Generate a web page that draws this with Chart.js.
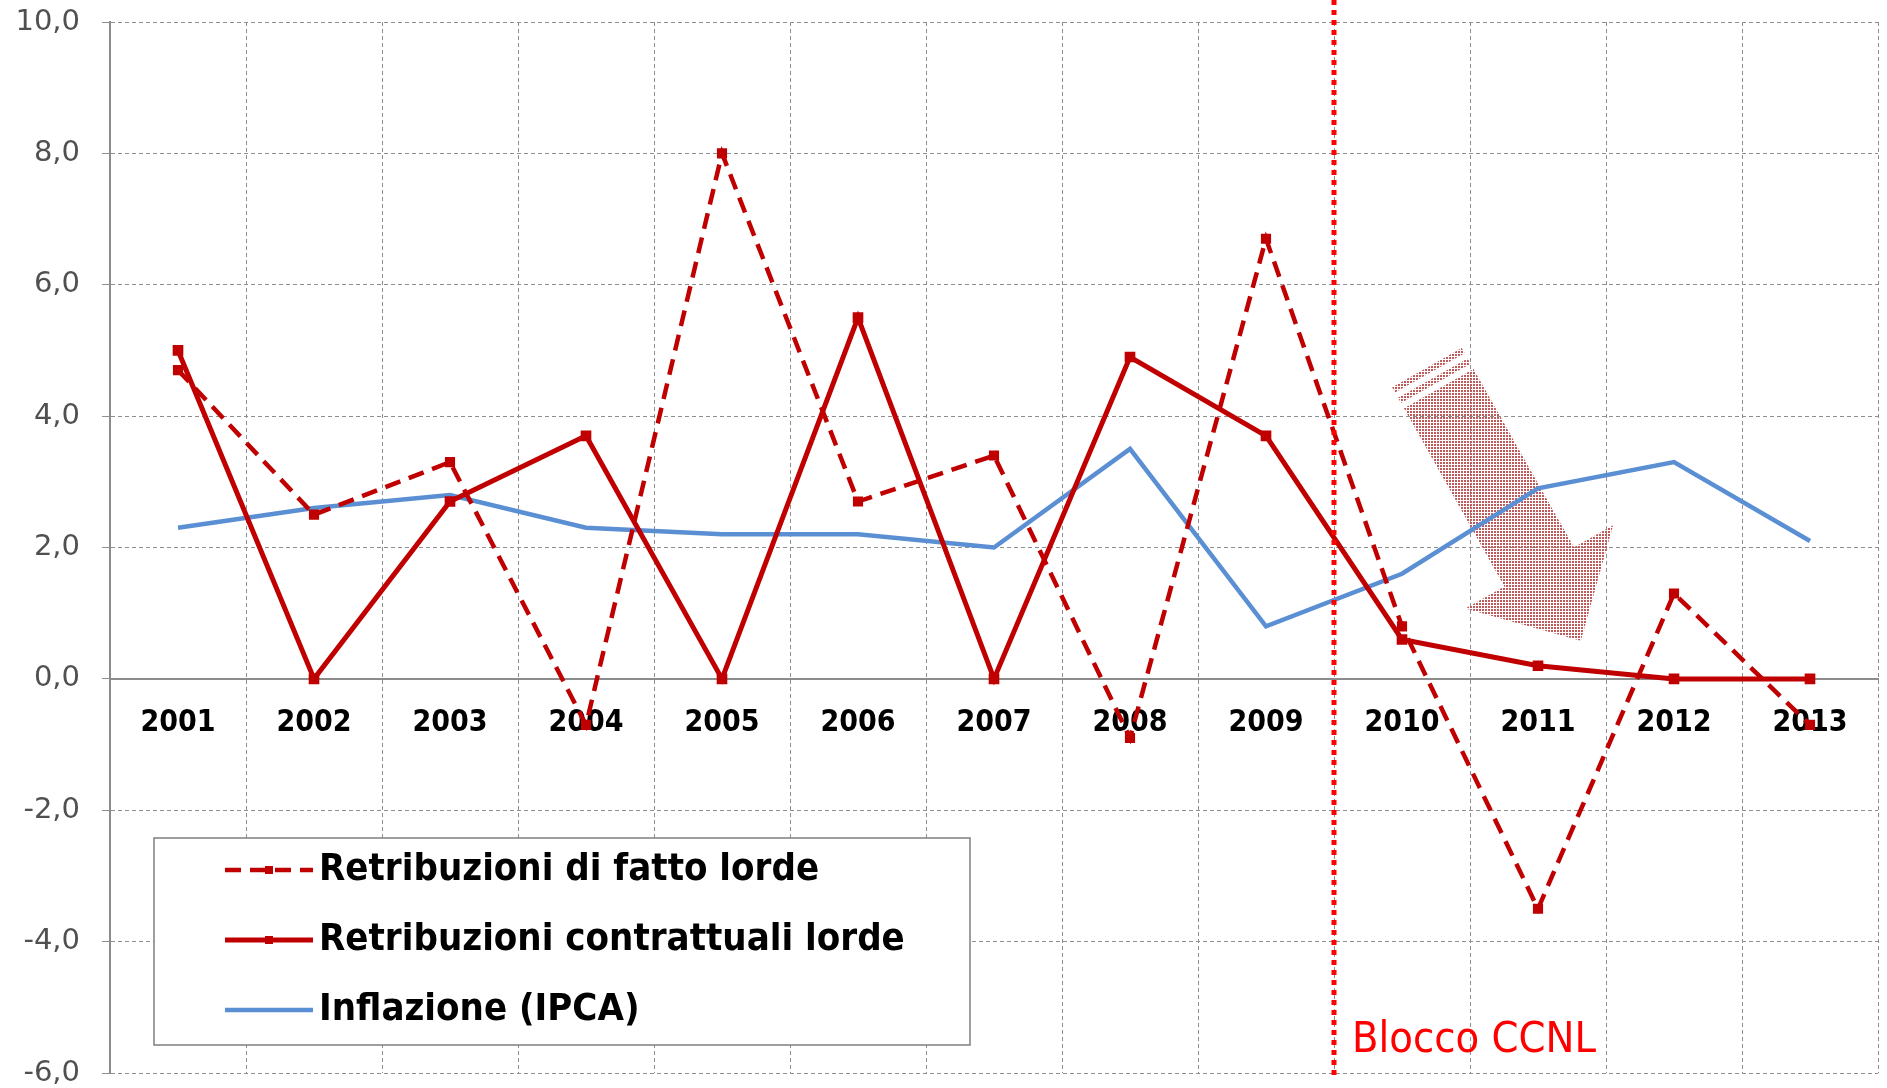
<!DOCTYPE html>
<html>
<head>
<meta charset="utf-8">
<script src="https://cdn.jsdelivr.net/npm/chart.js@4.4.0/dist/chart.umd.min.js"></script>
<style>
  html, body { margin: 0; padding: 0; background: #fff; }
  canvas { display: block; }
</style>
</head>
<body>
<canvas id="chart" width="1887" height="1088" style="width:1887px;height:1088px"></canvas>
<script>
// data
const years = ['2001', '2002', '2003', '2004', '2005', '2006', '2007', '2008', '2009', '2010', '2011', '2012', '2013'];
const fatto = [4.7, 2.5, 3.3, -0.7, 8.0, 2.7, 3.4, -0.9, 6.7, 0.8, -3.5, 1.3, -0.7];
const contrattuali = [5.0, 0.0, 2.7, 3.7, 0.0, 5.5, 0.0, 4.9, 3.7, 0.6, 0.2, 0.0, 0.0];
const ipca = [2.3, 2.6, 2.8, 2.3, 2.2, 2.2, 2.0, 3.5, 0.8, 1.6, 2.9, 3.3, 2.1];
const yMin = -6, yMax = 10, yStep = 2;

const NARROW = "'Liberation Sans Narrow', 'DejaVu Sans Condensed', sans-serif";
const RED = '#c00000';
const BLUE = '#5b8fd4';
const GRID = '#8f8f8f';

// hatched fill for the arrow
function hatch() {
    const c = document.createElement('canvas');
    c.width = 3; c.height = 3;
    const g = c.getContext('2d');
    g.fillStyle = '#c05a5a';
    g.fillRect(0, 0, 2, 2);
    return c;
}

const arrowPlugin = {
    id: 'arrow',
    beforeDatasetsDraw(chart) {
        const {ctx, scales: {x, y}} = chart;
        // back centre of the arrow
        const bx = x.getPixelForValue(9.27), by = y.getPixelForValue(4.42);
        const u = [0.49, 0.87], n = [0.87, -0.49];
        const pt = (t, s) => [bx + u[0] * t + n[0] * s, by + u[1] * t + n[1] * s];
        const poly = pts => {
            ctx.beginPath();
            pts.forEach((p, i) => i ? ctx.lineTo(p[0], p[1]) : ctx.moveTo(p[0], p[1]));
            ctx.closePath();
            ctx.fill();
        };
        ctx.save();
        ctx.fillStyle = ctx.createPattern(hatch(), 'repeat');
        poly([pt(0, -40), pt(0, 40), pt(205, 40), pt(205, 85), pt(290, 0), pt(205, -85), pt(205, -40)]);
        poly([pt(-12, -40), pt(-12, 40), pt(-6, 40), pt(-6, -40)]);
        poly([pt(-24, -40), pt(-24, 40), pt(-18, 40), pt(-18, -40)]);
        ctx.restore();
    }
};

const blockPlugin = {
    id: 'blocco',
    afterDatasetsDraw(chart) {
        const {ctx, chartArea, scales: {x}} = chart;
        const px = Math.round((x.getPixelForValue(8) + x.getPixelForValue(9)) / 2);
        ctx.save();
        ctx.strokeStyle = '#ff0000';
        ctx.lineWidth = 5;
        ctx.setLineDash([5, 5]);
        ctx.beginPath();
        ctx.moveTo(px, 0);
        ctx.lineTo(px, chartArea.bottom + 5);
        ctx.stroke();
        ctx.setLineDash([]);
        ctx.fillStyle = '#ff0000';
        ctx.font = "43px " + NARROW;
        ctx.textBaseline = 'alphabetic';
        ctx.fillText('Blocco CCNL', px + 18, 1052);
        ctx.restore();
    }
};

const legendPlugin = {
    id: 'boxLegend',
    afterDraw(chart) {
        const {ctx} = chart;
        const left = 154, top = 838, w = 816, h = 207;
        ctx.save();
        ctx.fillStyle = '#fff';
        ctx.fillRect(left, top, w, h);
        ctx.strokeStyle = '#7f7f7f';
        ctx.lineWidth = 1.5;
        ctx.strokeRect(left, top, w, h);
        chart.data.datasets.forEach((ds, i) => {
            const yy = 870 + i * 70;
            ctx.strokeStyle = ds.borderColor;
            ctx.lineWidth = ds.borderWidth;
            ctx.setLineDash(ds.borderDash || []);
            ctx.beginPath();
            ctx.moveTo(225, yy);
            ctx.lineTo(313, yy);
            ctx.stroke();
            ctx.setLineDash([]);
            if (ds.pointRadius) {
                ctx.fillStyle = ds.borderColor;
                ctx.fillRect(265, yy - 4, 8, 8);
            }
            ctx.fillStyle = '#000';
            ctx.font = "bold 38px " + NARROW;
            ctx.textBaseline = 'middle';
            ctx.fillText(ds.label, 319, yy);
        });
        ctx.restore();
    }
};

new Chart(document.getElementById('chart'), {
    type: 'line',
    data: {
        labels: years,
        datasets: [
            {
                label: 'Retribuzioni di fatto lorde',
                data: fatto,
                borderColor: RED,
                backgroundColor: RED,
                borderWidth: 4.5,
                borderDash: [16, 9],
                pointStyle: 'rect',
                pointRadius: 4,
                tension: 0
            },
            {
                label: 'Retribuzioni contrattuali lorde',
                data: contrattuali,
                borderColor: RED,
                backgroundColor: RED,
                borderWidth: 5,
                pointStyle: 'rect',
                pointRadius: 4,
                tension: 0
            },
            {
                label: 'Inflazione (IPCA)',
                data: ipca,
                borderColor: BLUE,
                backgroundColor: BLUE,
                borderWidth: 4.5,
                pointRadius: 0,
                tension: 0
            }
        ]
    },
    options: {
        responsive: false,
        animation: false,
        layout: { padding: { top: 22, right: 6, bottom: 15, left: 0 } },
        plugins: {
            legend: { display: false },
            tooltip: { enabled: false }
        },
        scales: {
            x: {
                position: { y: 0 },
                offset: true,
                afterFit(scale) { scale.height = 0; },
                grid: {
                    offset: true,
                    color: GRID,
                    lineWidth: 1,
                    drawTicks: false
                },
                border: { color: '#8c8c8c', width: 2, dash: [4, 3] },
                ticks: {
                    color: '#000',
                    padding: 26,
                    maxRotation: 0,
                    autoSkip: false,
                    font: { family: NARROW, size: 30, weight: 'bold' }
                }
            },
            y: {
                min: yMin,
                max: yMax,
                afterFit(scale) {
                    scale.width = 110;
                    scale.paddingTop = 0;
                    scale.paddingBottom = 0;
                },
                grid: {
                    color: GRID,
                    lineWidth: 1,
                    tickLength: 8
                },
                border: { color: '#8c8c8c', width: 2, dash: [4, 3] },
                ticks: {
                    stepSize: yStep,
                    color: '#505050',
                    padding: 22,
                    font: { family: "'DejaVu Sans', Verdana, sans-serif", size: 29 },
                    callback: v => v.toFixed(1).replace('.', ',')
                }
            }
        }
    },
    plugins: [arrowPlugin, blockPlugin, legendPlugin]
});
</script>
</body>
</html>
